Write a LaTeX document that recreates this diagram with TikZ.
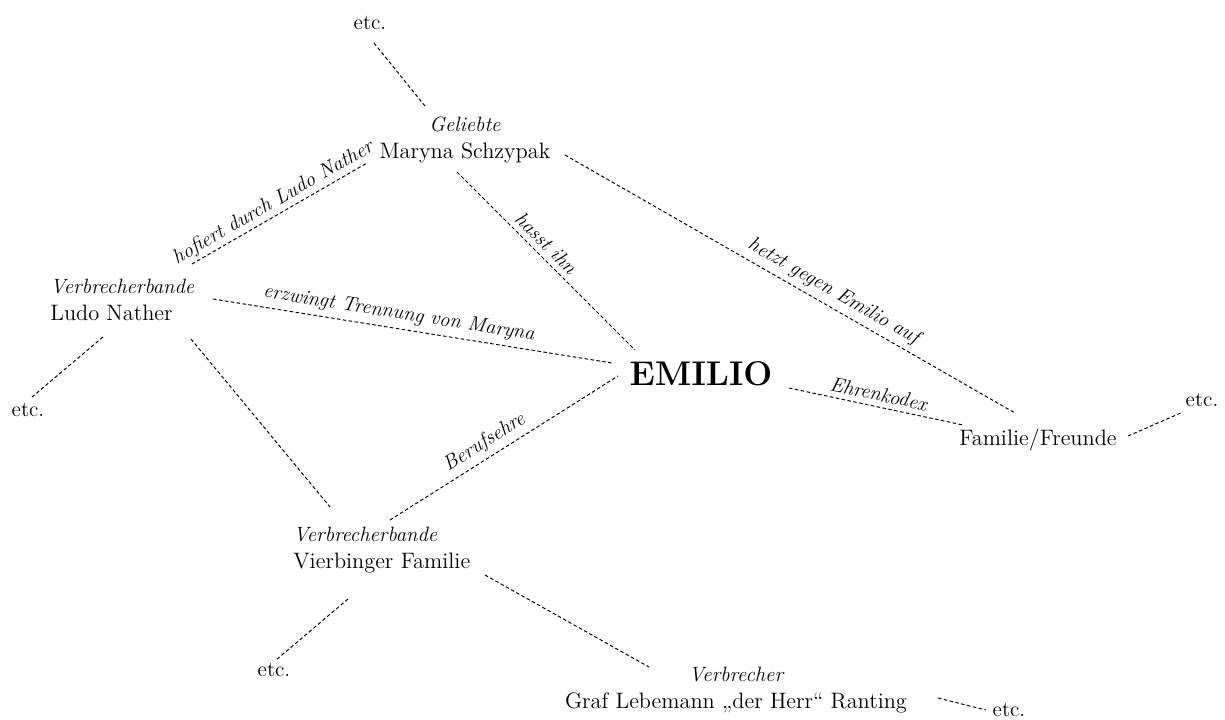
\documentclass[tikz,border=0pt]{standalone}
\usepackage{fontspec}
\usetikzlibrary{calc}
\newcommand\ttlfont{\fontsize{11.8}{15.3}\selectfont\itshape}
\newcommand\nmfont{\fontsize{12.7}{15.3}\selectfont}
\tikzset{
  link/.style={draw=black, line width=0.55pt, dash pattern=on 2pt off 1.4pt},
  namebox/.style={inner sep=0pt, font=\nmfont, text=black},
  etcbox/.style={inner sep=0pt, font=\fontsize{12.2}{14}\selectfont, text=black},
  lbl/.style={sloped, above, inner sep=3pt, font=\fontsize{11.6}{14}\selectfont\itshape, text=black},
}
\begin{document}
\begin{tikzpicture}[x=0.02cm, y=-0.02cm]
\useasboundingbox (0,0) rectangle (1225,720);

\node[etcbox] (etcT) at (370,23) {etc.};
\node[namebox, align=center] (mar) at (465,140) {{\ttlfont Geliebte}\\Maryna Schzypak};
\node[namebox, align=left, anchor=west] (ludo) at (50,300) {{\ttlfont Verbrecherbande}\\Ludo Nather};
\node[etcbox] (etcL) at (28,410) {etc.};
\node[namebox, font=\fontsize{19.5}{22}\selectfont\bfseries] (emilio) at (701,374) {EMILIO};
\node[namebox] (fam) at (1038,440) {Familie/Freunde};
\node[etcbox] (etcR) at (1202,400) {etc.};
\node[namebox, align=left, anchor=west] (vier) at (293,550) {{\ttlfont Verbrecherbande}\\Vierbinger Familie};
\node[etcbox] (etcBL) at (274,670) {etc.};
\node[namebox, align=center] (graf) at (736,690) {{\ttlfont Verbrecher}\\Graf Lebemann „der Herr“ Ranting};
\node[etcbox] (etcBR) at (1009,710) {etc.};

\draw[link] ($(etcT)+(4,20)$) -- ($(mar)+(-40,-34)$);
\draw[link] ($(ludo.west)+(142,-36)$) -- node[lbl, pos=.5, inner sep=1.5pt] {hofiert durch Ludo Nather} ($(mar)+(-98,23)$);
\draw[link] ($(mar)+(-8,32)$) -- node[lbl, pos=.45] {hasst ihn} ($(emilio)+(-66,-24)$);
\draw[link] ($(mar)+(100,15)$) -- node[lbl, pos=.58] {hetzt gegen Emilio auf} ($(fam)+(-23,-27)$);
\draw[link] ($(ludo.west)+(163,-1)$) -- node[lbl, pos=.46] {erzwingt Trennung von Maryna} ($(emilio)+(-89,-11)$);
\draw[link] ($(ludo.west)+(53,37)$) -- ($(etcL)+(4,-13)$);
\draw[link] ($(ludo.west)+(141,39)$) -- ($(vier.west)+(37,-43)$);
\draw[link] ($(vier.west)+(97,-30)$) -- node[lbl, pos=.45] {Berufsehre} ($(emilio)+(-83,2)$);
\draw[link] ($(emilio)+(88,14)$) -- node[lbl, pos=.5] {Ehrenkodex} ($(fam)+(-75,-15)$);
\draw[link] ($(fam)+(90,-4)$) -- ($(etcR)+(-19,12)$);
\draw[link] ($(vier.west)+(55,49)$) -- ($(etcBL)+(2,-10)$);
\draw[link] ($(vier.west)+(192,25)$) -- ($(graf)+(-87,-23)$);
\draw[link] ($(graf)+(202,8)$) -- ($(etcBR)+(-23,0)$);
\end{tikzpicture}
\end{document}
